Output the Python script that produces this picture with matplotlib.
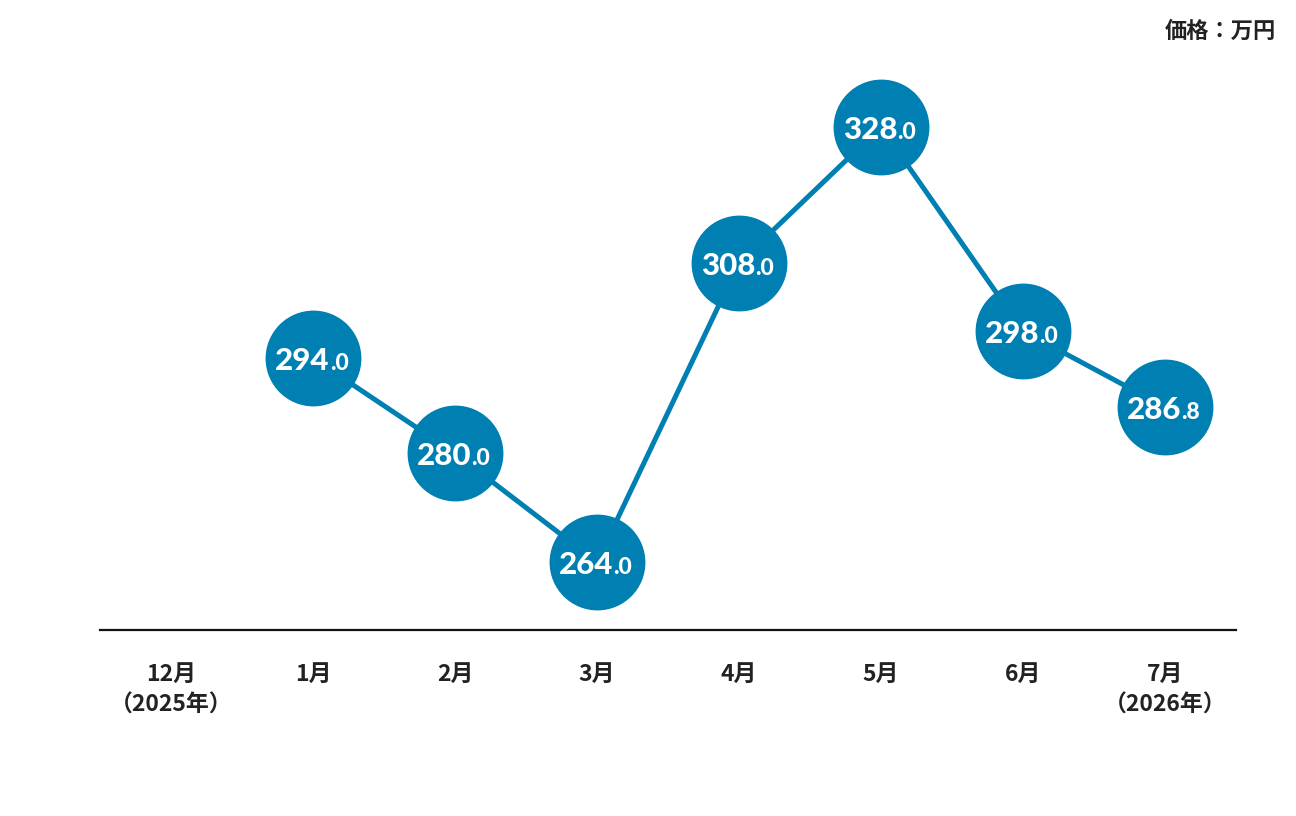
import matplotlib
matplotlib.use('Agg')
import matplotlib.pyplot as plt

plt.rcParams['font.family'] = ['Noto Sans CJK JP', 'DejaVu Sans']

months = ['12月\n（2025年）', '1月', '2月', '3月', '4月', '5月', '6月', '7月\n（2026年）']
prices = [None, 294.0, 280.0, 264.0, 308.0, 328.0, 298.0, 286.8]
unit_label = '価格：万円'

blue = '#0080b2'

fig = plt.figure(figsize=(12.96, 8.16), dpi=100)
ax = fig.add_axes([0, 0, 1, 1])
ax.set_xlim(-1.204, 7.923)
ax.set_ylim(226.63, 346.68)
ax.axis('off')

xs = [i for i, p in enumerate(prices) if p is not None]
ys = [p for p in prices if p is not None]

# line + circles
ax.plot(xs, ys, color=blue, lw=3.6, zorder=2, solid_capstyle='butt')
ax.plot(xs, ys, 'o', ms=69, color=blue, mec='none', zorder=3)

# value labels: big integer part, small decimal part
for x, y in zip(xs, ys):
    s = '%.1f' % y
    whole, dec = s.split('.')
    ax.annotate(whole, (x, y), xytext=(12.0, -8.5), textcoords='offset points',
                ha='right', va='baseline', color='white', fontsize=22.5,
                fontweight='black', family='Lato', zorder=4)
    ax.annotate('.' + dec, (x, y), xytext=(12.0, -8.5), textcoords='offset points',
                ha='left', va='baseline', color='white', fontsize=16.5,
                fontweight='black', family='Lato', zorder=4)

# baseline axis
ax.plot([-0.5, 7.5], [254, 254], color='#111111', lw=1.6, zorder=1)

# month labels
for i, m in enumerate(months):
    ax.annotate(m, (i, 254), xytext=(0, -24), textcoords='offset points',
                ha='center', va='top', fontsize=16.5, fontweight='bold',
                color='#222222', linespacing=1.4)

fig.text(1276 / 1296, 1 - 31 / 816, unit_label, ha='right', va='center',
         fontsize=16, fontweight='bold', color='#222222')

fig.savefig('out.png', dpi=100)
